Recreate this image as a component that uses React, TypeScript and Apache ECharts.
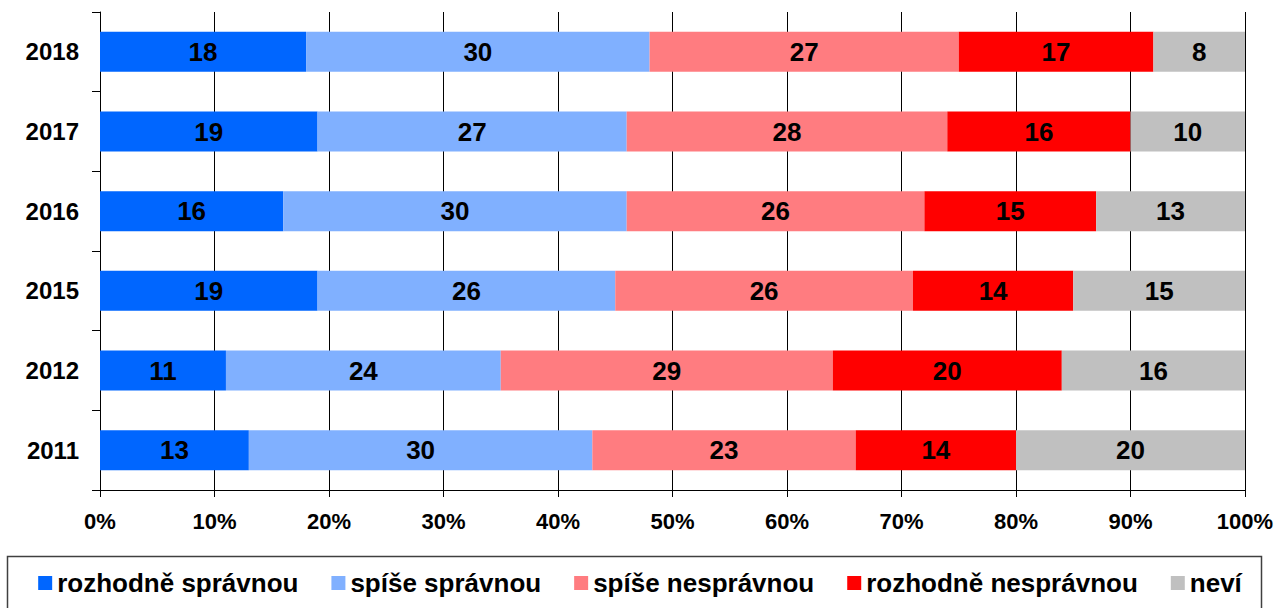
import React, { useEffect, useRef } from "react";
import * as echarts from "echarts";

const years = ["2011", "2012", "2015", "2016", "2017", "2018"];
const seriesNames = [
  "rozhodně správnou",
  "spíše správnou",
  "spíše nesprávnou",
  "rozhodně nesprávnou",
  "neví",
];
const rozhodneSpravnou = [13, 11, 19, 16, 19, 18];
const spiseSpravnou = [30, 24, 26, 30, 27, 30];
const spiseNespravnou = [23, 29, 26, 26, 28, 27];
const rozhodneNespravnou = [14, 20, 14, 15, 16, 17];
const nevi = [20, 16, 15, 13, 10, 8];
const colors = ["#0066FF", "#80B0FF", "#FF7C80", "#FF0000", "#C0C0C0"];
const xTicks = [0, 10, 20, 30, 40, 50, 60, 70, 80, 90, 100];

const FONT = "'Liberation Sans', Arial, sans-serif";

export default function App() {
  const ref = useRef<HTMLDivElement>(null);
  useEffect(() => {
    if (!ref.current) return;
    const chart = echarts.init(ref.current, null, { renderer: "svg" });
    const values = [rozhodneSpravnou, spiseSpravnou, spiseNespravnou, rozhodneNespravnou, nevi];
    chart.setOption({
      animation: false,
      textStyle: { fontFamily: FONT },
      grid: { left: 100, right: 35, top: 12, bottom: 118, containLabel: false },
      legend: {
        data: seriesNames,
        left: "center",
        top: 570,
        padding: 0,
        itemGap: 33,
        itemWidth: 14,
        itemHeight: 14,
        icon: "rect",
        textStyle: { fontSize: 26, fontWeight: "bold", color: "#000", fontFamily: FONT },
      },
      graphic: [
        {
          type: "rect",
          shape: { x: 7.5, y: 556.5, width: 1254, height: 80 },
          style: { fill: "none", stroke: "#404040", lineWidth: 1.5 },
          z: -1,
        },
      ],
      xAxis: {
        type: "value",
        min: xTicks[0],
        max: xTicks[xTicks.length - 1],
        interval: 10,
        axisLine: { show: true, lineStyle: { color: "#000", width: 1 } },
        axisTick: { show: true, length: 7, lineStyle: { color: "#000" } },
        splitLine: { show: true, lineStyle: { color: "#000", width: 1 } },
        axisLabel: {
          formatter: "{value}%",
          fontSize: 22,
          fontWeight: "bold",
          color: "#000",
          margin: 20,
          fontFamily: FONT,
        },
      },
      yAxis: {
        type: "category",
        data: years,
        axisLine: { show: true, lineStyle: { color: "#000", width: 1 } },
        axisTick: { show: true, length: 8, lineStyle: { color: "#000" } },
        axisLabel: {
          fontSize: 24,
          fontWeight: "bold",
          color: "#000",
          margin: 21,
          fontFamily: FONT,
        },
      },
      series: seriesNames.map((name, i) => ({
        name,
        type: "bar",
        stack: "total",
        barWidth: 40,
        data: values[i],
        itemStyle: { color: colors[i] },
        label: {
          show: true,
          position: "inside",
          fontSize: 26,
          fontWeight: "bold",
          color: "#000",
          fontFamily: FONT,
        },
      })),
    });
    return () => chart.dispose();
  }, []);
  return <div ref={ref} style={{ width: 1280, height: 608, position: "absolute", left: 0, top: 0 }} />;
}
